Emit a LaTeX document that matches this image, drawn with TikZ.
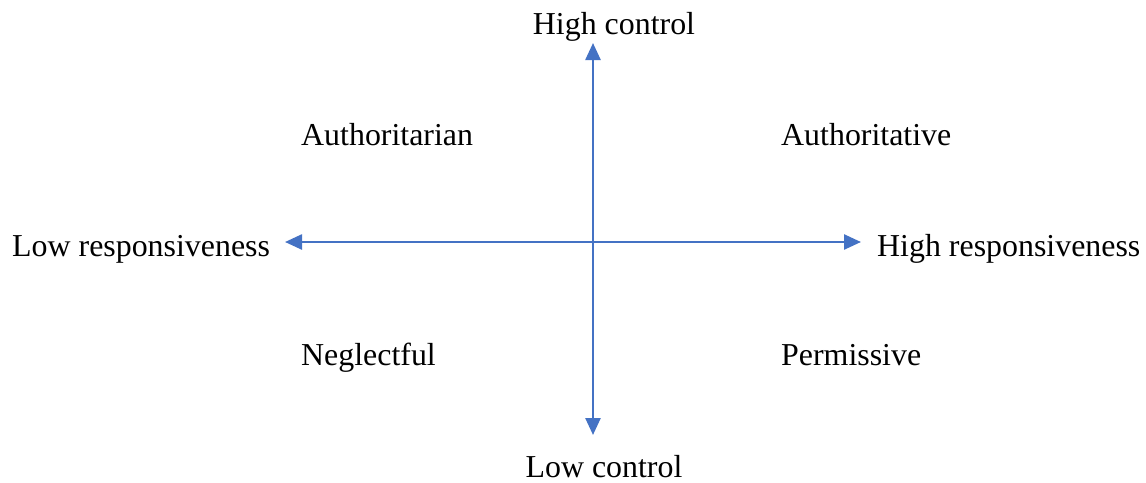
\documentclass[tikz,border=0pt]{standalone}
\usepackage{fontspec}
\setmainfont{Liberation Serif}
\usetikzlibrary{arrows.meta}
\definecolor{axisblue}{HTML}{4472C4}
\begin{document}
\begin{tikzpicture}[x=1pt,y=-1pt,
  lbl/.style={inner sep=0pt,font=\fontsize{31.9}{38}\selectfont},
  axis/.style={draw=axisblue,line width=2.5pt,-{Triangle[length=17pt,width=15pt]}}]
\useasboundingbox (0,0) rectangle (1146,482);
\coordinate (top) at (593,43);
\coordinate (bot) at (593,435);
\coordinate (left) at (285,242);
\coordinate (right) at (861,242);
\coordinate (c) at (593,242);
\draw[axis] (c) -- (top);
\draw[axis] (c) -- (bot);
\draw[axis] (c) -- (left);
\draw[axis] (c) -- (right);
\node[lbl,anchor=base] (hc) at (614,34) {High control};
\node[lbl,anchor=base] (lc) at (604,477) {Low control};
\node[lbl,anchor=base west] (lr) at (12,256) {Low responsiveness};
\node[lbl,anchor=base west] (hr) at (877,256) {High responsiveness};
\node[lbl,anchor=base west] (a1) at (301,145) {Authoritarian};
\node[lbl,anchor=base west] (a2) at (781,145) {Authoritative};
\node[lbl,anchor=base west] (n) at (301,365) {Neglectful};
\node[lbl,anchor=base west] (p) at (781,365) {Permissive};
\end{tikzpicture}
\end{document}
